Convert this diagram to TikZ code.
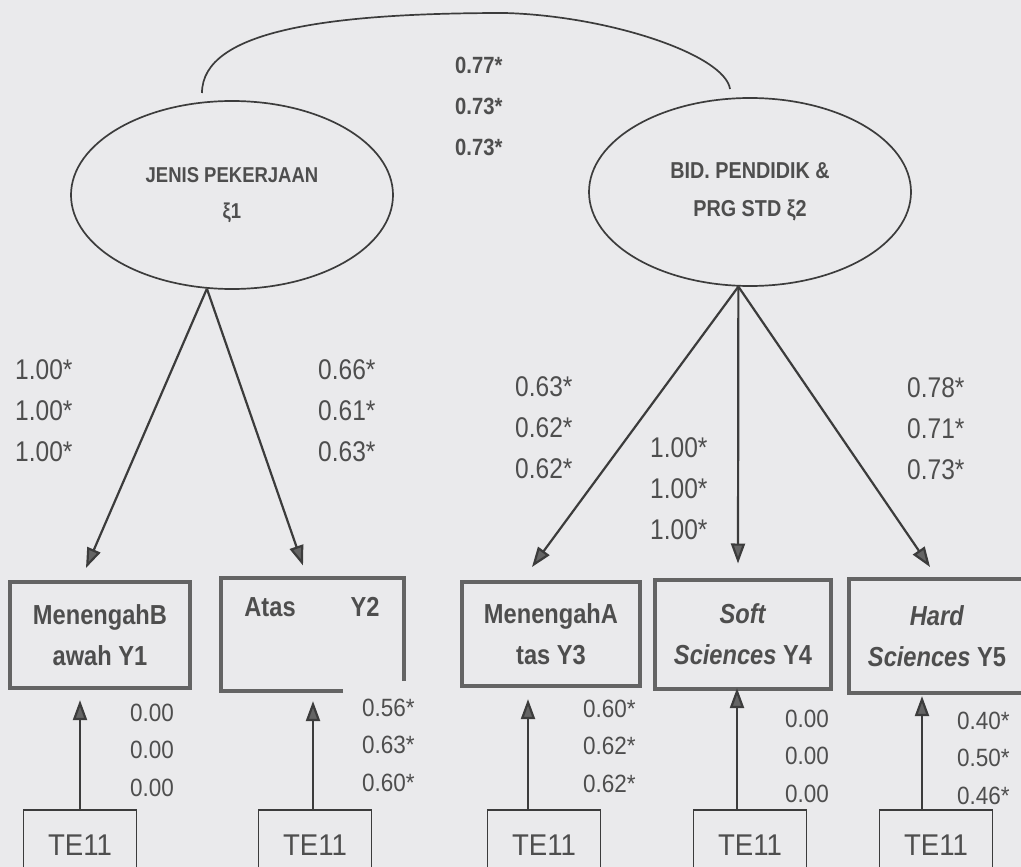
\documentclass[tikz,border=0pt]{standalone}
\usepackage{fontspec}
\setmainfont{Liberation Sans}
\newfontfamily\condA[FakeStretch=0.86]{Liberation Sans}
\newfontfamily\condB[FakeStretch=0.90]{Liberation Sans}
\newfontfamily\condC[FakeStretch=0.92]{Liberation Sans}
\usetikzlibrary{shapes.geometric,arrows.meta}
\definecolor{bg}{RGB}{234,234,236}
\definecolor{ink}{RGB}{60,60,60}
\definecolor{txt}{RGB}{78,78,78}
\definecolor{boxc}{RGB}{100,100,100}
\begin{document}
\begin{tikzpicture}[x=1pt,y=-1pt,
  lat/.style={ellipse,draw=ink,line width=1.7pt,minimum width=322pt,minimum height=188pt,align=center,text=txt,inner sep=0pt},
  obs/.style={rectangle,draw=boxc,line width=4pt,align=center,text=txt,font=\condA\bfseries\fontsize{27.5}{41}\selectfont,inner sep=0pt},
  boxline/.style={draw=boxc,line width=4pt},
  err/.style={rectangle,draw=ink,line width=1.8pt,minimum width=113pt,minimum height=70pt,text=txt,font=\condC\fontsize{30}{30}\selectfont,inner sep=0pt},
  coef/.style={anchor=west,align=left,text=txt,font=\condA\fontsize{28.5}{41}\selectfont,inner sep=0pt},
  coefb/.style={anchor=west,align=left,text=txt,font=\condB\fontsize{25}{37.5}\selectfont,inner sep=0pt},
  coefc/.style={anchor=west,align=left,text=txt,font=\condA\bfseries\fontsize{23.5}{41}\selectfont,inner sep=0pt},
  arr/.style={draw=ink,line width=2.2pt,-{Triangle[length=20pt,width=14pt,fill=boxc]}},
]
\fill[bg] (0,0) rectangle (1021,867);
\useasboundingbox (0,0) rectangle (1021,867);
\clip (0,0) rectangle (1021,867);

% latent variables
\node[lat,font=\condA\bfseries\fontsize{21.5}{36}\selectfont] (e1) at (232,195) {JENIS PEKERJAAN\\ξ1};
\node[lat,font=\condA\bfseries\fontsize{23}{38}\selectfont] (e2) at (750,192) {BID. PENDIDIK \&\\PRG STD ξ2};

% covariance curve
\coordinate (c1) at (202,93);
\coordinate (c2) at (730,89);
\draw[ink,line width=1.7pt] (c1) .. controls (202,30) and (330,13) .. (505,13)
  .. controls (610,16) and (725,55) .. (c2);
\node[coefc] (r12) at (455,106) {0.77*\\0.73*\\0.73*};

% observed variables
\node[obs,minimum width=180pt,minimum height=106pt] (b1) at (100,635) {MenengahB\\awah Y1};
\node[obs,draw=none,minimum width=179pt,minimum height=109pt] (b2) at (312,634) {Atas\hspace{55pt}Y2\\\strut};
\draw[boxline] ([xshift=31pt]b2.south) -- (b2.south west) -- (b2.north west) -- (b2.north east) -- ([yshift=10pt]b2.south east);
\node[obs,minimum width=178pt,minimum height=104pt] (b3) at (551,634) {MenengahA\\tas Y3};
\node[obs,minimum width=176pt,minimum height=109pt] (b4) at (743,634) {\textit{Soft}\\\textit{Sciences} Y4};
\node[obs,minimum width=176pt,minimum height=114pt] (b5) at (937,636) {\textit{Hard}\\\textit{Sciences} Y5};

% error terms
\node[err] (t1) at (80,845) {TE11};
\node[err] (t2) at (315,845) {TE11};
\node[err] (t3) at (544,845) {TE11};
\node[err] (t4) at (750,845) {TE11};
\node[err] (t5) at (936,845) {TE11};

% loadings
\draw[arr] (e1.-105) -- ([xshift=-14pt,yshift=12pt]b1.north);
\draw[arr] (e1.-105) -- ([xshift=-9pt,yshift=12pt]b2.north);
\draw[arr] (e2.-97) -- ([xshift=-19pt,yshift=13pt]b3.north);
\draw[arr] (e2.-97) -- ([xshift=-5pt,yshift=14pt]b4.north);
\draw[arr] (e2.-97) -- ([xshift=-7pt,yshift=10pt]b5.north);

\node[coef] (l1) at (15,411) {1.00*\\1.00*\\1.00*};
\node[coef] (l2) at (318,411) {0.66*\\0.61*\\0.63*};
\node[coef] (l3) at (515,428) {0.63*\\0.62*\\0.62*};
\node[coef] (l4) at (650,489) {1.00*\\1.00*\\1.00*};
\node[coef] (l5) at (907,429) {0.78*\\0.71*\\0.73*};

% error paths
\draw[arr] (t1.north) -- ++(0,-109);
\draw[arr] ([xshift=-2pt]t2.north) -- ++(0,-108);
\draw[arr] ([xshift=-16pt]t3.north) -- ++(0,-110);
\draw[arr] ([xshift=-13pt]t4.north) -- ++(0,-121);
\draw[arr] ([xshift=-14pt]t5.north) -- ++(0,-113);

\node[coefb] (m1) at (130,750) {0.00\\0.00\\0.00};
\node[coefb] (m2) at (362,745) {0.56*\\0.63*\\0.60*};
\node[coefb] (m3) at (583,746) {0.60*\\0.62*\\0.62*};
\node[coefb] (m4) at (785,756) {0.00\\0.00\\0.00};
\node[coefb] (m5) at (957,758) {0.40*\\0.50*\\0.46*};
\end{tikzpicture}
\end{document}
